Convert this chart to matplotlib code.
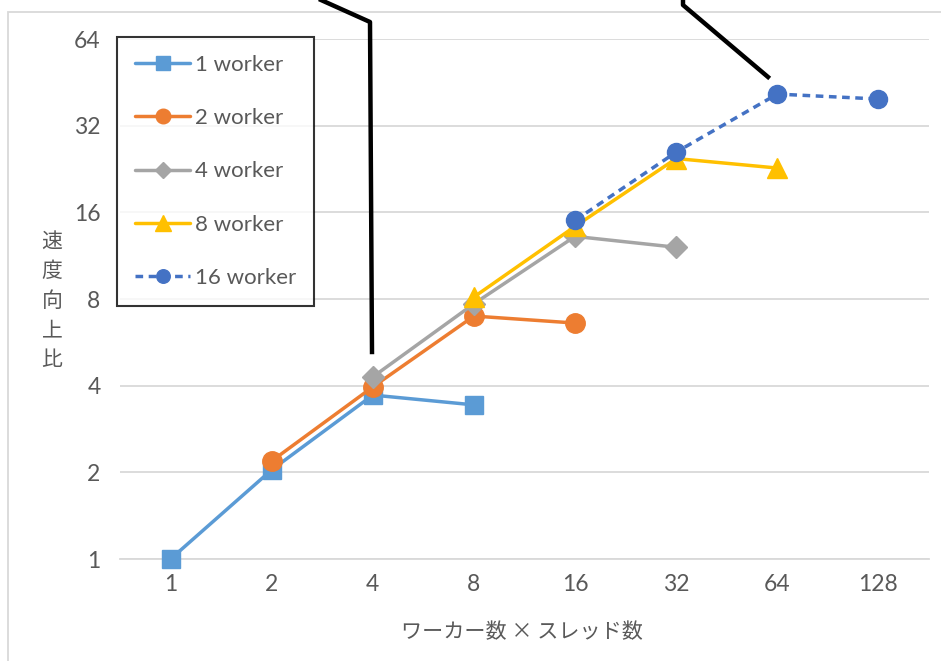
import matplotlib
matplotlib.use("Agg")
import matplotlib.pyplot as plt
import numpy as np
from matplotlib.lines import Line2D
from matplotlib.patches import Rectangle

plt.rcParams['font.family'] = ['Lato', 'Noto Sans CJK JP', 'DejaVu Sans']

# Total parallelism (workers x threads)
categories = ["1", "2", "4", "8", "16", "32", "64", "128"]

# Speed-up ratio for each worker count (None = not measured)
w1 = [1.0, 2.04, 3.71, 3.43, None, None, None, None]
w2 = [None, 2.19, 3.96, 6.98, 6.6, None, None, None]
w4 = [None, None, 4.29, 7.7, 13.2, 12.1, None, None]
w8 = [None, None, None, 8.13, 14.3, 24.6, 22.8, None]
w16 = [None, None, None, None, 15.0, 25.9, 41.2, 39.6]

series_labels = ["1 worker", "2 worker", "4 worker", "8 worker", "16 worker"]
y_ticks = [1, 2, 4, 8, 16, 32, 64]

W, H = 941, 661
fig = plt.figure(figsize=(W / 100, H / 100), dpi=100)
ax = fig.add_axes([120 / W, 1 - 559 / H, (929 - 120) / W, (559 - 39) / H])

styles = [
    dict(color="#5B9BD5", marker="s", ms=13.5, ls="-"),
    dict(color="#ED7D31", marker="o", ms=14, ls="-"),
    dict(color="#A5A5A5", marker="D", ms=11, ls="-"),
    dict(color="#FFC000", marker="^", ms=15, ls="-"),
    dict(color="#4472C4", marker="o", ms=13, ls=(0, (2.2, 1.6))),
]

x = np.arange(len(categories))
handles = []
for data, st, lab in zip([w1, w2, w4, w8, w16], styles, series_labels):
    y = np.array([np.nan if v is None else v for v in data], dtype=float)
    ln, = ax.plot(x, y, color=st["color"], lw=2.5, ls=st["ls"],
                  marker=st["marker"], markersize=st["ms"],
                  markerfacecolor=st["color"], markeredgecolor=st["color"],
                  label=lab, zorder=3, solid_capstyle="round", clip_on=False)
    handles.append(ln)

ax.set_yscale("log", base=2)
ax.set_ylim(1, 64)
ax.set_xlim(-0.5, len(categories) - 0.5)
ax.set_yticks(y_ticks)
ax.set_yticklabels([str(t) for t in y_ticks])
ax.minorticks_off()
ax.set_xticks(x)
ax.set_xticklabels(categories)

for s in ["top", "right", "left"]:
    ax.spines[s].set_visible(False)
ax.spines["bottom"].set_color("#D9D9D9")
ax.spines["bottom"].set_linewidth(1.3)
ax.grid(axis="y", color="#D9D9D9", lw=1.3)
ax.set_axisbelow(True)
ax.tick_params(axis="both", length=0, colors="#595959", labelsize=16.5)
ax.tick_params(axis="y", pad=14)
ax.tick_params(axis="x", pad=11)

# Axis titles
fig.text(52 / W, 1 - 301 / H, "速\n度\n向\n上\n比", ha="center", va="center",
         fontsize=15, color="#595959", linespacing=1.45,
         family=['Noto Sans CJK JP'])
fig.text(522 / W, 1 - 632 / H, "ワーカー数 × スレッド数", ha="center", va="center",
         fontsize=15.2, color="#595959", family=['Noto Sans CJK JP'])

# Legend with black frame
leg = ax.legend(handles=handles, loc="upper left",
                bbox_to_anchor=(117 / W, 1 - 37 / H), bbox_transform=fig.transFigure,
                frameon=True, fancybox=False, edgecolor="black", fontsize=16,
                labelcolor="#595959", markerscale=0.75, handlelength=2.5,
                handletextpad=0.2, labelspacing=1.5, borderpad=0.8,
                borderaxespad=0)
leg.get_frame().set_linewidth(1.5)
leg.set_zorder(5)

# Chart area border
fig.add_artist(Rectangle((8 / W, -0.1), 1.2, 1 - 12 / H + 0.1, transform=fig.transFigure,
                         fill=False, edgecolor="#D9D9D9", lw=1.3))

# Leader lines from callouts above the chart
fig.add_artist(Line2D([321 / W, 370 / W, 372 / W], [1, 1 - 22 / H, 1 - 352 / H],
                      transform=fig.transFigure, color="black", lw=3.2, zorder=6))
fig.add_artist(Line2D([683 / W, 683 / W, 768 / W], [1, 1 - 5 / H, 1 - 77 / H],
                      transform=fig.transFigure, color="black", lw=3.2, zorder=6))

fig.savefig("out.png", dpi=100)
